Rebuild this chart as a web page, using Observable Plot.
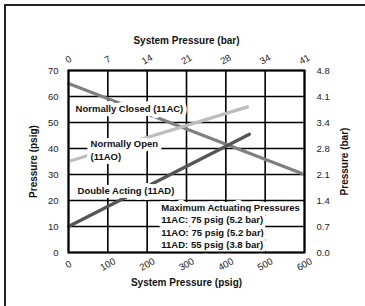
<!DOCTYPE html>
<html>
<head>
<meta charset="utf-8">
<script src="https://cdn.jsdelivr.net/npm/d3@7"></script>
<script src="https://cdn.jsdelivr.net/npm/@observablehq/plot@0.6"></script>
<style>
  html, body { margin: 0; padding: 0; background: #fff; }
  #wrap { position: relative; width: 365px; height: 306px; overflow: hidden; }
  #border { position: absolute; left: 4px; top: 4px; width: 400px; height: 400px;
            border-left: 2px solid #222; border-top: 2px solid #222; pointer-events: none; }
  #chart { position: absolute; left: 0; top: 0; }
  svg g[aria-label$="axis label"] text { font-weight: bold; font-size: 10px; fill: #111; }
</style>
</head>
<body>
<div id="wrap"><div id="chart"></div><div id="border"></div></div>
<script>
// Axis ticks and labels
const psigTicks = [0, 100, 200, 300, 400, 500, 600];
const barTopLabels = ["0", "7", "14", "21", "28", "34", "41"];
const psigYTicks = [0, 10, 20, 30, 40, 50, 60, 70];
const barRightLabels = ["0.0", "0.7", "1.4", "2.1", "2.8", "3.4", "4.1", "4.8"];

// Series: [system pressure psig, actuating pressure psig]
const normallyClosed = [[0, 65], [600, 30]];
const normallyOpen = [[0, 35], [455, 56]];
const doubleActing = [[0, 10], [460, 45.5]];

// Annotations
const labelText = [
  "Normally Closed (11AC)",
  "Normally Open\n(11AO)",
  "Double Acting (11AD)",
  "Maximum Actuating Pressures\n11AC: 75 psig (5.2 bar)\n11AO: 75 psig (5.2 bar)\n11AD: 55 psig (3.8 bar)"
];
const labelX = [18, 56, 23, 236];
const labelY = [55.4, 39.6, 24.2, 10.4];
const labels = labelText.map((t, i) => ({text: t, x: labelX[i], y: labelY[i]}));

const chart = Plot.plot({
  width: 365,
  height: 306,
  marginLeft: 68,
  marginRight: 61,
  marginTop: 70,
  marginBottom: 54,
  x: {domain: [0, 600]},
  y: {domain: [0, 70]},
  style: {fontFamily: "'Liberation Sans', Arial, sans-serif", fontSize: "9.5px", color: "#222", background: "transparent"},
  marks: [
    Plot.gridX(psigTicks, {stroke: "#000", strokeOpacity: 1, strokeWidth: 1.6}),
    Plot.gridY(psigYTicks, {stroke: "#000", strokeOpacity: 1, strokeWidth: 1.6}),
    Plot.line(normallyClosed, {x: d => d[0], y: d => d[1], stroke: "#808080", strokeWidth: 3.3}),
    Plot.line(normallyOpen, {x: d => d[0], y: d => d[1], stroke: "#bdbdbd", strokeWidth: 3.3}),
    Plot.line(doubleActing, {x: d => d[0], y: d => d[1], stroke: "#555555", strokeWidth: 3.3}),
    Plot.text(labels, {x: "x", y: "y", text: "text", textAnchor: "start", fontWeight: "bold",
      fontSize: 9.5, fill: "#111", stroke: "white", strokeWidth: 8, lineHeight: 1.3}),
    Plot.frame({stroke: "#000", strokeWidth: 2}),
    Plot.axisY(psigYTicks, {anchor: "left", tickSize: 0, tickPadding: 10,
      label: "Pressure (psig)", labelArrow: "none", labelAnchor: "center", labelOffset: 39}),
    Plot.axisY(psigYTicks, {anchor: "right", tickSize: 0, tickPadding: 12,
      tickFormat: d => barRightLabels[psigYTicks.indexOf(d)],
      label: "Pressure (bar)", labelArrow: "none", labelAnchor: "center", labelOffset: 43}),
    Plot.axisX(psigTicks, {anchor: "bottom", tickSize: 0, tickPadding: 12, tickRotate: -30,
      textAnchor: "middle", label: "System Pressure (psig)", labelArrow: "none", labelAnchor: "center", labelOffset: 33}),
    Plot.axisX(psigTicks, {anchor: "top", tickSize: 0, tickPadding: 11, tickRotate: -30,
      textAnchor: "middle", tickFormat: d => barTopLabels[psigTicks.indexOf(d)],
      label: "System Pressure (bar)", labelArrow: "none", labelAnchor: "center", labelOffset: 34})
  ]
});
document.getElementById("chart").appendChild(chart);
</script>
</body>
</html>
